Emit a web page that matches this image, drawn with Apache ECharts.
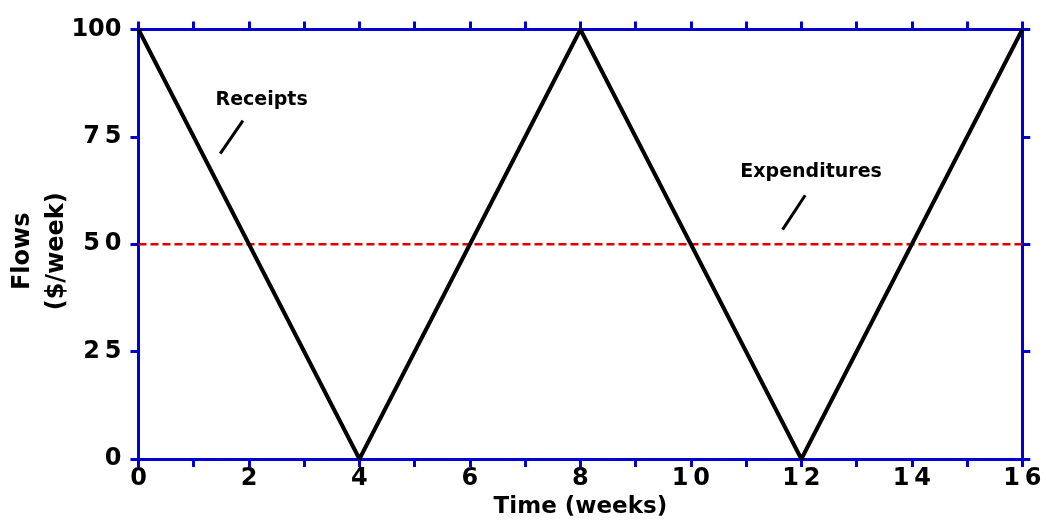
<!DOCTYPE html>
<html>
<head>
<meta charset="utf-8">
<script src="https://cdn.jsdelivr.net/npm/echarts@6/dist/echarts.min.js"></script>
<style>html,body{margin:0;padding:0;background:#fff;}#c{width:1046px;height:529px;}</style>
</head>
<body>
<div id="c"></div>
<script>
// Data
var timeWeeks = [0, 4, 8, 12, 16];
var receipts = [100, 0, 100, 0, 100];
var expenditureTimes = [0, 16];
var expenditures = [50, 50];
var xTickLabels = {0:'0', 2:'2', 4:'4', 6:'6', 8:'8', 10:'1\u20090', 12:'1\u20092', 14:'1\u20094', 16:'1\u20096'};
var yTickLabels = {0:'0', 25:'2\u20095', 50:'5\u20090', 75:'7\u20095', 100:'100'};
var annotationTexts = ['Receipts', 'Expenditures'];
var annotationPos = [[2.229, 83.5], [12.177, 66.7]];
var leaderLines = [[[1.48, 71.1], [1.89, 78.8]], [[11.66, 53.4], [12.07, 61.4]]];

var AX = '#0000d0';
var FONT = 'DejaVu Sans';
var chart = echarts.init(document.getElementById('c'));

function axisCommon() {
  return {
    axisLine: {show: true, onZero: false, lineStyle: {color: AX, width: 3}},
    axisTick: {show: true, inside: false, length: 8, lineStyle: {color: AX, width: 3}},
    splitLine: {show: false}
  };
}

var xBottom = Object.assign(axisCommon(), {
  type: 'value', position: 'bottom', min: 0, max: 16, interval: 1,
  axisLabel: {show: true, margin: 8, color: '#000', fontFamily: FONT, fontWeight: 'bold', fontSize: 24,
    formatter: function (v) { return xTickLabels.hasOwnProperty(v) ? xTickLabels[v] : ''; }},
  name: 'Time (weeks)', nameLocation: 'middle', nameGap: 37, nameMoveOverlap: false,
  nameTextStyle: {color: '#000', fontFamily: FONT, fontWeight: 'bold', fontSize: 23}
});
var xTop = Object.assign(axisCommon(), {
  type: 'value', position: 'top', min: 0, max: 16, interval: 1, axisLabel: {show: false}
});
var yLeft = Object.assign(axisCommon(), {
  type: 'value', position: 'left', min: 0, max: 100, interval: 25,
  axisLabel: {show: true, margin: 17, color: '#000', fontFamily: FONT, fontWeight: 'bold', fontSize: 24,
    formatter: function (v) { return yTickLabels.hasOwnProperty(v) ? yTickLabels[v] : ''; }},
  name: 'Flows\n($/week)', nameLocation: 'middle', nameGap: 65, nameRotate: 90, nameMoveOverlap: false,
  nameTextStyle: {color: '#000', fontFamily: FONT, fontWeight: 'bold', fontSize: 24, lineHeight: 34, padding: [0, 14, 0, 0]}
});
var yRight = Object.assign(axisCommon(), {
  type: 'value', position: 'right', min: 0, max: 100, interval: 25, axisLabel: {show: false}
});

chart.setOption({
  animation: false,
  backgroundColor: '#fff',
  grid: {left: 138.5, right: 23.7, top: 29.5, bottom: 70, containLabel: false, outerBoundsMode: 'none'},
  xAxis: [xBottom, xTop],
  yAxis: [yLeft, yRight],
  series: [
    {
      name: 'Receipts', type: 'line', xAxisIndex: 0, yAxisIndex: 0, z: 3,
      data: timeWeeks.map(function (t, i) { return [t, receipts[i]]; }),
      showSymbol: false, symbol: 'none', clip: false,
      lineStyle: {color: '#000', width: 4}
    },
    {
      name: 'Expenditures', type: 'line', xAxisIndex: 0, yAxisIndex: 0, z: 2,
      data: expenditureTimes.map(function (t, i) { return [t, expenditures[i]]; }),
      showSymbol: false, symbol: 'none',
      lineStyle: {color: '#e00000', width: 2.5, type: [8, 4]}
    },
    {
      name: 'annotations', type: 'scatter', xAxisIndex: 0, yAxisIndex: 0, z: 4,
      symbolSize: 0, silent: true,
      itemStyle: {opacity: 1, color: '#000'},
      data: annotationPos.map(function (p, i) { return {value: p, name: annotationTexts[i]}; }),
      label: {show: true, position: 'inside', formatter: '{b}', color: '#000', opacity: 1,
        textBorderWidth: 0, fontFamily: FONT, fontWeight: 'bold', fontSize: 19},
      markLine: {
        silent: true, symbol: ['none', 'none'], animation: false,
        label: {show: false},
        lineStyle: {color: '#000', width: 3, type: 'solid', opacity: 1},
        data: leaderLines.map(function (l) { return [{coord: l[0]}, {coord: l[1]}]; })
      }
    }
  ]
});
</script>
</body>
</html>
